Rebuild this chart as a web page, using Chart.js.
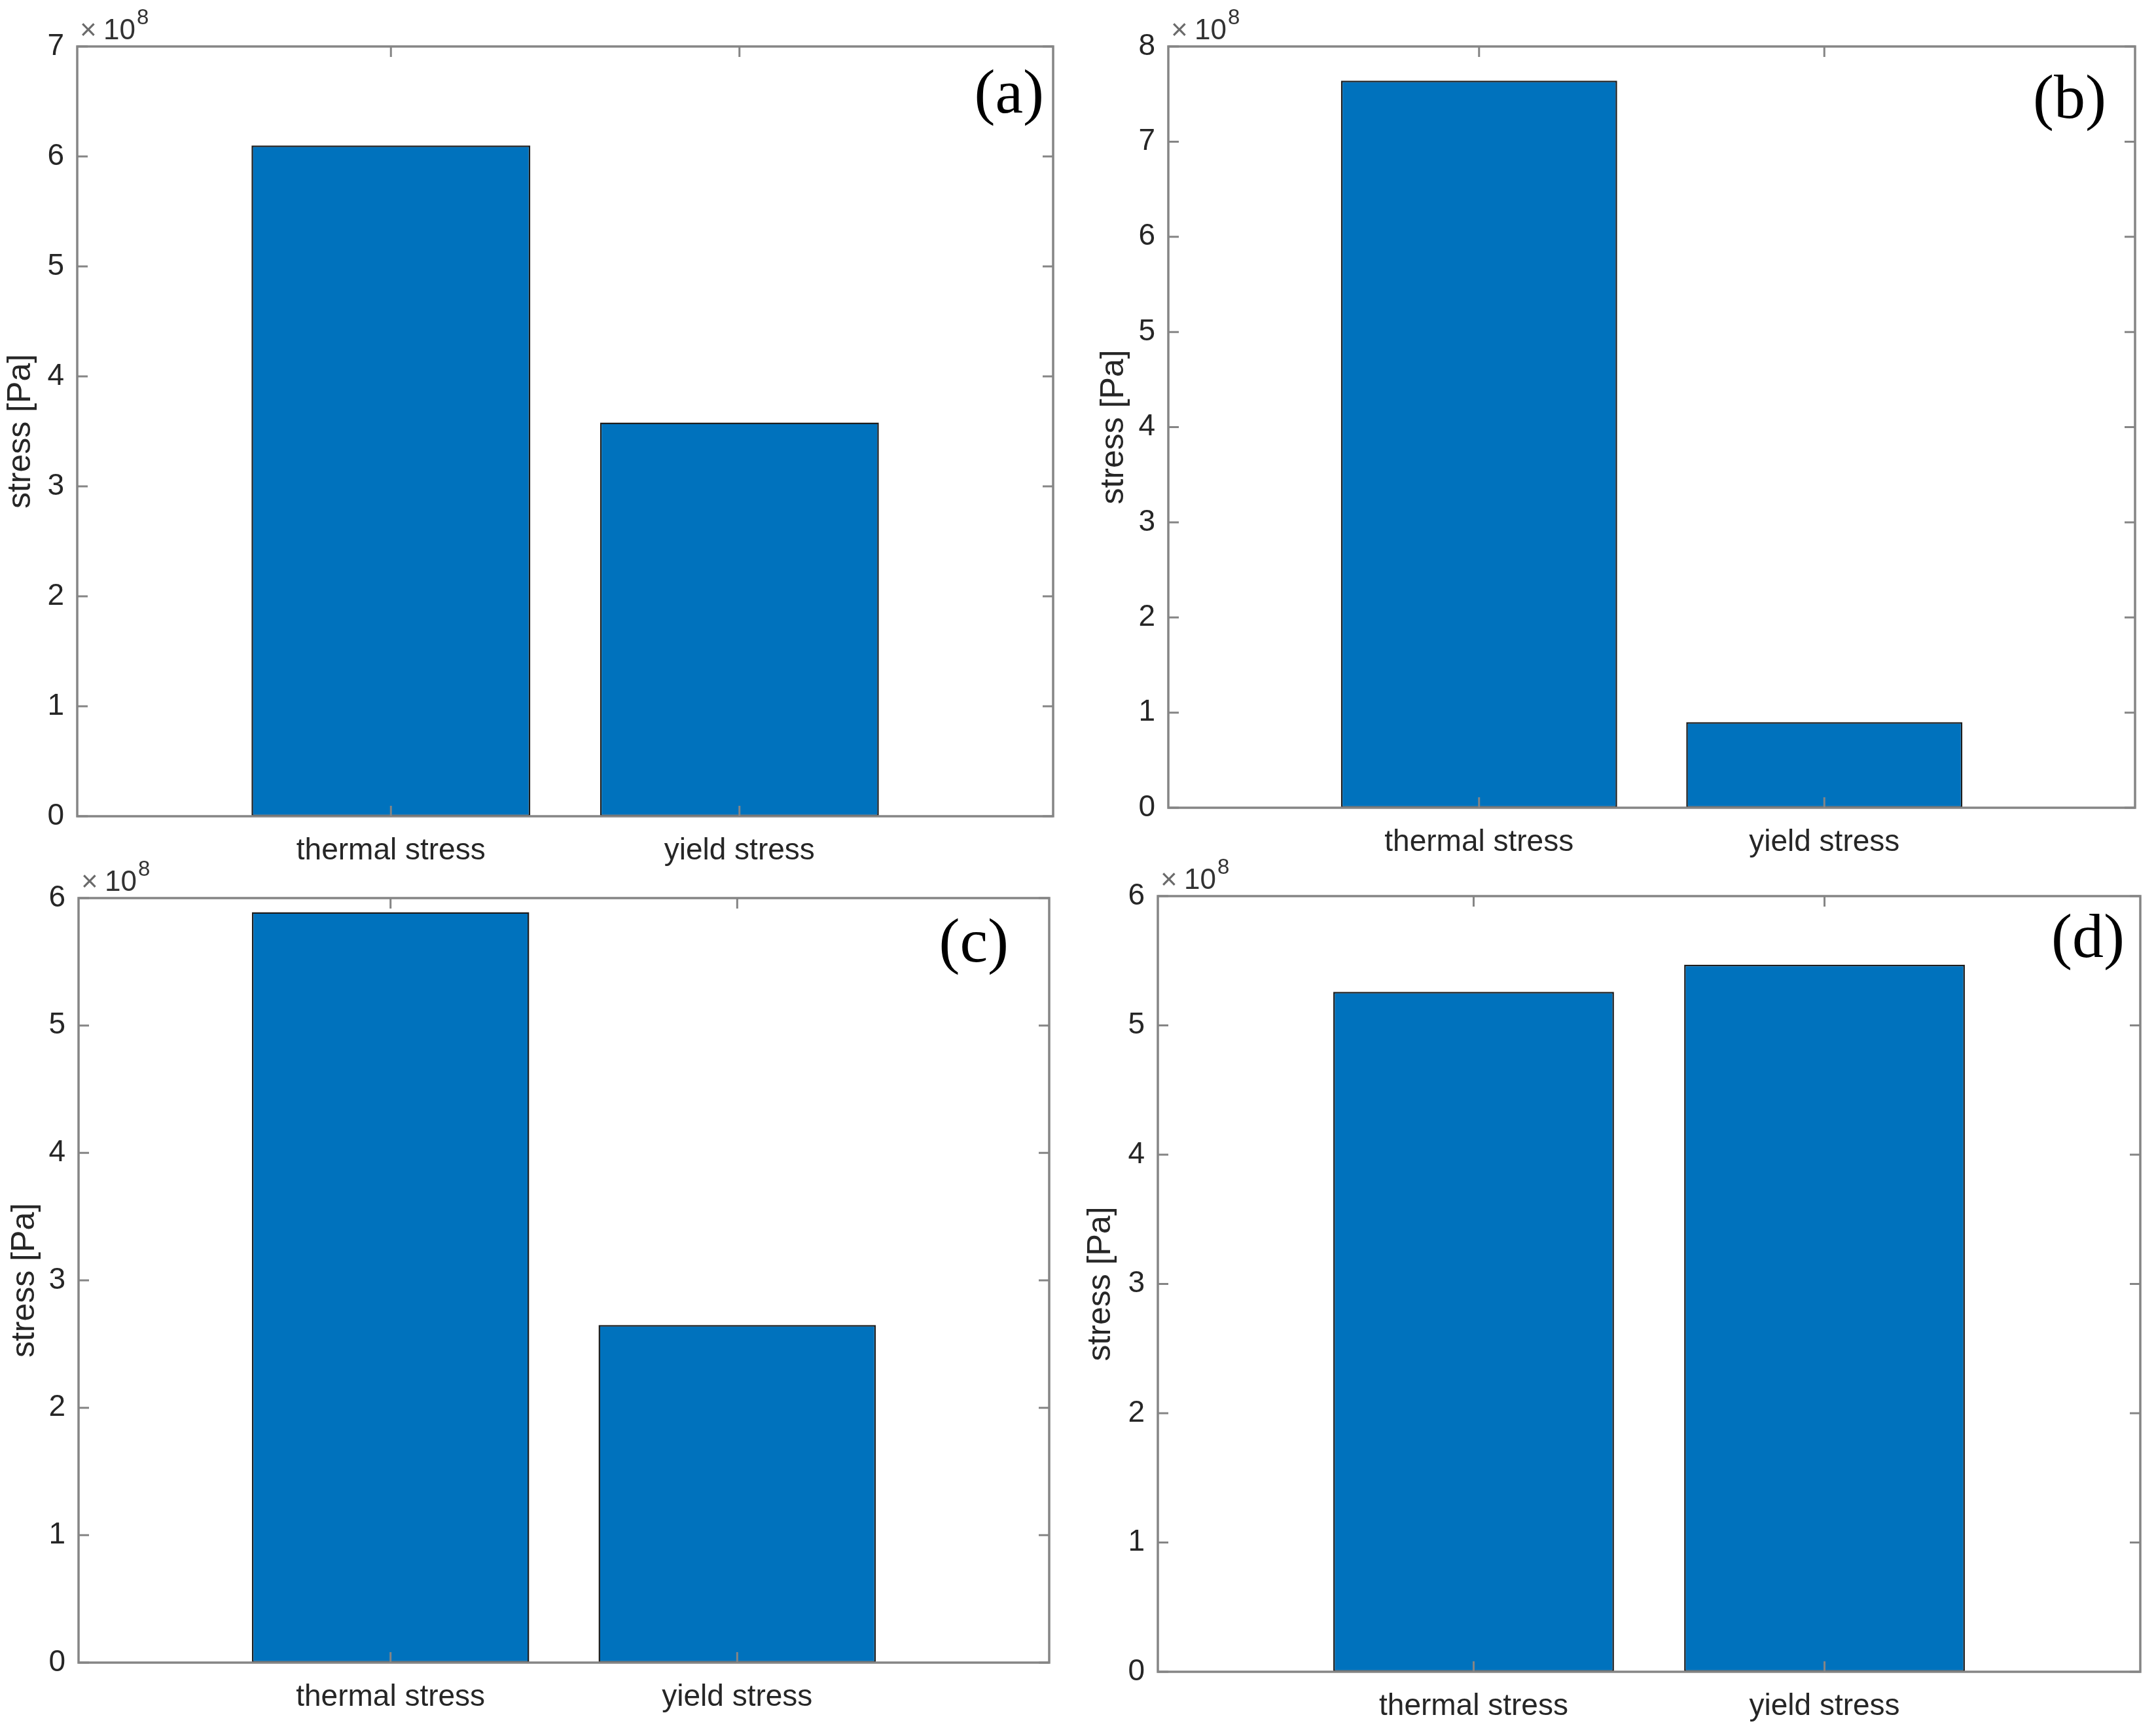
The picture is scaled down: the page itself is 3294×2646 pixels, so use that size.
<!DOCTYPE html>
<html>
<head>
<meta charset="utf-8">
<script src="https://cdn.jsdelivr.net/npm/chart.js@4.4.1/dist/chart.umd.min.js"></script>
<style>
  html, body { margin: 0; padding: 0; background: #fff; }
  body { width: 3294px; height: 2646px; position: relative; overflow: hidden; }
  .panel { position: absolute; }
  .panel canvas { display: block; }
</style>
</head>
<body>
<div class="panel" id="wrap-a"><canvas id="chart-a"></canvas></div>
<div class="panel" id="wrap-b"><canvas id="chart-b"></canvas></div>
<div class="panel" id="wrap-c"><canvas id="chart-c"></canvas></div>
<div class="panel" id="wrap-d"><canvas id="chart-d"></canvas></div>
<script>
var categories = ["thermal stress", "yield stress"];

// stress in Pa
var stressA = [6.10e8, 3.58e8];
var stressB = [7.64e8, 0.90e8];
var stressC = [5.89e8, 2.65e8];
var stressD = [5.26e8, 5.47e8];

// top of each y axis, in units of 1e8
var yTopA = 7, yTopB = 8, yTopC = 6, yTopD = 6;

var panelLabels = ["(a)", "(b)", "(c)", "(d)"];

// plot box [left, top, right, bottom] in page pixels, title padding, letter offset [from right, from top]
var layout = [
  { box: [118, 71, 1609, 1247], titlePad: 2, letter: [14, 76] },
  { box: [1785, 71, 3262, 1234], titlePad: 5, letter: [44, 84] },
  { box: [120, 1372, 1603, 2540], titlePad: 6, letter: [62, 72] },
  { box: [1769, 1369, 3270, 2554], titlePad: 1, letter: [24, 68] }
];

var AXIS_W = 118, AXIS_H = 110, PAD_R = 30;
var sans = "'Liberation Sans', Arial, Helvetica, sans-serif";
var textColor = "#262626";

var framePlugin = {
  id: "frame",
  afterDatasetsDraw: function(chart, args, opts) {
    var ctx = chart.ctx;
    var a = chart.chartArea;
    var xs = chart.scales.x, ys = chart.scales.y;
    var tl = 16;

    ctx.save();
    ctx.strokeStyle = "#858585";
    ctx.lineWidth = 3.5;
    ctx.strokeRect(a.left, a.top, a.right - a.left, a.bottom - a.top);

    ctx.lineWidth = 3;
    ctx.beginPath();
    ys.ticks.forEach(function(t) {
      var py = ys.getPixelForValue(t.value);
      ctx.moveTo(a.left, py); ctx.lineTo(a.left + tl, py);
      ctx.moveTo(a.right, py); ctx.lineTo(a.right - tl, py);
    });
    xs.ticks.forEach(function(t) {
      var px = xs.getPixelForValue(t.value);
      ctx.moveTo(px, a.bottom); ctx.lineTo(px, a.bottom - tl);
      ctx.moveTo(px, a.top); ctx.lineTo(px, a.top + tl);
    });
    ctx.stroke();

    // x10^8 multiplier above the axis
    ctx.textAlign = "left";
    ctx.textBaseline = "alphabetic";
    ctx.fillStyle = "#6a6a6a";
    ctx.font = "44px " + sans;
    ctx.fillText("\u00d7", a.left + 4, a.top - 11);
    ctx.fillStyle = "#333";
    ctx.fillText("10", a.left + 40, a.top - 11);
    var w10 = ctx.measureText("10").width;
    ctx.font = "33px " + sans;
    ctx.fillText("8", a.left + 42 + w10, a.top - 34);

    // panel letter
    ctx.fillStyle = "#000";
    ctx.font = "96px 'Liberation Serif', 'Times New Roman', serif";
    ctx.textAlign = "right";
    ctx.textBaseline = "middle";
    ctx.fillText(opts.label, a.right - opts.pos[0], a.top + opts.pos[1]);
    ctx.restore();
  }
};

function setupChart(idx, id, values, yTop) {
  var lay = layout[idx];
  var b = lay.box;
  var wrap = document.getElementById("wrap-" + id);
  var canvas = document.getElementById("chart-" + id);
  var w = (b[2] - b[0]) + AXIS_W + PAD_R;
  var h = (b[3] - b[1]) + 71 + AXIS_H;
  wrap.style.left = (b[0] - AXIS_W) + "px";
  wrap.style.top = (b[1] - 71) + "px";
  canvas.width = w;
  canvas.height = h;
  canvas.style.width = w + "px";
  canvas.style.height = h + "px";

  var points = values.map(function(v, i) {
    return { x: i + 1, y: v };
  });

  new Chart(canvas, {
    type: "bar",
    data: {
      datasets: [{
        data: points,
        backgroundColor: "#0072BD",
        borderColor: "#1c1c1c",
        borderWidth: 2.5,
        borderSkipped: false,
        barPercentage: 0.8,
        categoryPercentage: 1
      }]
    },
    plugins: [framePlugin],
    options: {
      responsive: false,
      animation: false,
      devicePixelRatio: 1,
      layout: { padding: { left: 0, top: 71, right: PAD_R, bottom: 0 } },
      plugins: {
        legend: { display: false },
        tooltip: { enabled: false },
        frame: { label: panelLabels[idx], pos: lay.letter }
      },
      scales: {
        x: {
          type: "linear",
          min: 0.1,
          max: 2.9,
          offset: false,
          afterBuildTicks: function(s) {
            s.ticks = categories.map(function(c, i) { return { value: i + 1 }; });
          },
          afterFit: function(s) { s.height = AXIS_H; },
          grid: { display: false, drawTicks: false, offset: false },
          border: { display: false },
          ticks: {
            autoSkip: false,
            maxRotation: 0,
            padding: 26,
            color: textColor,
            font: { family: sans, size: 46 },
            callback: function(v) { return categories[Math.round(v) - 1]; }
          }
        },
        y: {
          min: 0,
          max: yTop * 1e8,
          afterFit: function(s) { s.width = AXIS_W; },
          grid: { display: false, drawTicks: false },
          border: { display: false },
          ticks: {
            stepSize: 1e8,
            padding: 20,
            color: textColor,
            font: { family: sans, size: 46 },
            callback: function(v) { return Math.round(v / 1e8); }
          },
          title: {
            display: true,
            text: "stress [Pa]",
            color: textColor,
            font: { family: sans, size: 50 },
            padding: { top: lay.titlePad, bottom: 0 }
          }
        }
      }
    }
  });
}

setupChart(0, "a", stressA, yTopA);
setupChart(1, "b", stressB, yTopB);
setupChart(2, "c", stressC, yTopC);
setupChart(3, "d", stressD, yTopD);
</script>
</body>
</html>
